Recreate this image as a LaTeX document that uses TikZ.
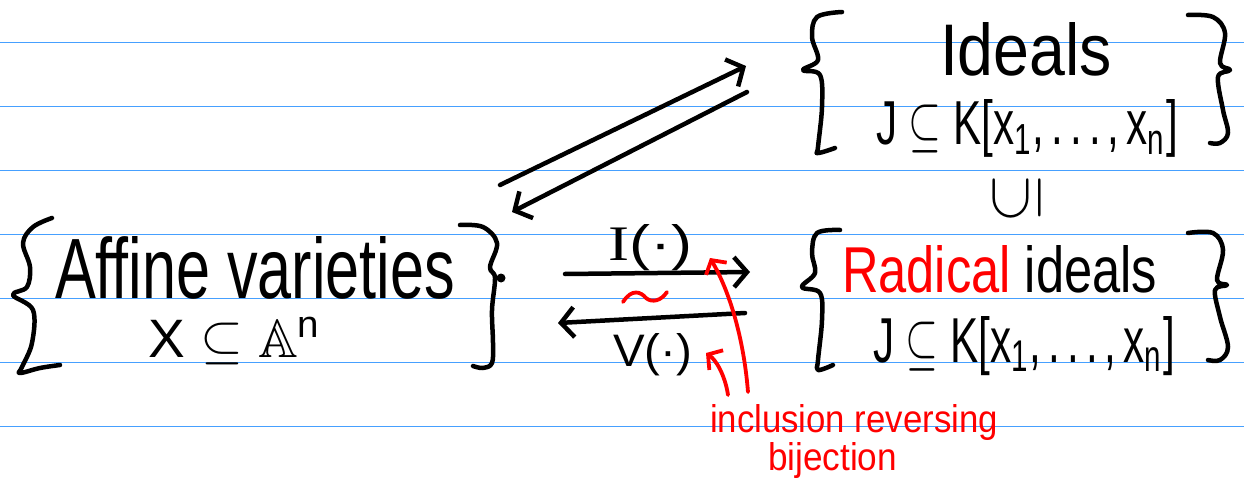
\documentclass[tikz,border=0pt]{standalone}
\usepackage{amssymb}
\usepackage{graphicx}
\usepackage{fontspec}
\setmainfont{Liberation Sans}
\newfontfamily\serifhand{Liberation Serif}
\usetikzlibrary{arrows.meta}
\definecolor{rule}{RGB}{70,160,255}
\definecolor{ink}{RGB}{0,0,0}
\definecolor{redink}{RGB}{255,0,0}
% scale a piece of text to a given width and height above the baseline (in pt)
\newcommand{\fitto}[3]{\resizebox{#1pt}{#2pt}{#3}}
\begin{document}
\begin{tikzpicture}[x=1pt,y=-1pt,
  pen/.style={draw=ink, line width=4.5pt, line cap=round, line join=round},
  redpen/.style={draw=redink, line width=3.8pt, line cap=round, line join=round},
  bracepath/.style={pen, smooth, tension=0.6},
  label/.style={anchor=base west, inner sep=0pt, outer sep=0pt},
  barb/.style={-{Straight Barb[length=13pt,width=30pt]}},
  smallbarb/.style={-{Straight Barb[length=10pt,width=24pt]}},
  ruleline/.style={draw=rule, line width=1.8pt}]

\useasboundingbox (0,0) rectangle (1244,484);
\fill[white] (0,0) rectangle (1244,484);

% ruled paper
\foreach \k in {0,...,6}
  \draw[ruleline] (0,{42.5+64*\k}) -- (1244,{42.5+64*\k});

% ---------- affine varieties ----------
\draw[bracepath] plot coordinates {(52,218) (33,227) (23,243) (30,267) (27,287) (13,295)
  (33,310) (32,343) (22,367) (20,373) (40,368) (60,365)};
\draw[bracepath] plot coordinates {(460,225) (483,227) (497,243) (490,267) (495,278)
  (492,310) (493,343) (492,363) (483,368) (473,366)};
\fill[ink] (501,278) circle (4.5pt);

\node[label] (aff) at (55,298) {\fitto{400}{62}{Affine varieties}};
\node[label] (affX) at (148,357) {\fitto{174}{40}{X $\subseteq\mathbb{A}$\textsuperscript{n}}};

% ---------- ideals ----------
\draw[bracepath] plot coordinates {(842,12) (817,17) (812,37) (818,60) (803,70)
  (820,75) (822,107) (818,147) (818,153) (835,148)};
\draw[bracepath] plot coordinates {(1188,15) (1213,17) (1225,33) (1220,63) (1230,70)
  (1218,77) (1223,110) (1228,133) (1220,143) (1210,143)};
\node[label] (ideals) at (940,76) {\fitto{172}{53}{Ideals}};
\node[label] (idealsJ) at (876,145) {\fitto{302}{45}{J $\subseteq$ K[x\textsubscript{1},\,.\,.\,.\,,\,x\textsubscript{n}]}};

% inclusion of radical ideals in all ideals
\node[label] (incl) at (993,223) {\fitto{48}{50}{\rotatebox{90}{$\subseteq$}}};

% ---------- radical ideals ----------
\draw[bracepath] plot coordinates {(840,230) (817,233) (812,253) (815,273) (802,287)
  (820,293) (822,320) (818,360) (818,370) (833,365)};
\draw[bracepath] plot coordinates {(1188,233) (1213,233) (1223,250) (1217,280) (1227,285)
  (1215,290) (1220,317) (1228,347) (1220,360) (1208,360)};
\node[label] (rad) at (842,292) {\fitto{315}{47}{\textcolor{redink}{Radical} ideals}};
\node[label] (radJ) at (873,362) {\fitto{302}{46}{J $\subseteq$ K[x\textsubscript{1},\,.\,.\,.\,,\,x\textsubscript{n}]}};

% ---------- maps between them ----------
\coordinate (affTop) at (500,185);
\coordinate (idLow) at (746,66);
\coordinate (idLow2) at (747,92);
\coordinate (affTop2) at (512,212);
\draw[pen, barb] (affTop) -- (idLow);
\draw[pen, barb] (idLow2) -- (affTop2);

\coordinate (affR) at (565,274);
\coordinate (radL) at (750,272);
\coordinate (radL2) at (745,313);
\coordinate (affR2) at (558,323);
\draw[pen, barb] (affR) -- (radL);
\draw[pen, barb] (radL2) -- (affR2);

\node[label] (Imap) at (608,260) {\fitto{84}{36}{{\serifhand I}(·)}};
\node[label] (Vmap) at (613,366) {\fitto{79}{33}{V(·)}};

% bijection mark
\draw[redpen] (623,302) .. controls (632,288) and (641,292) .. (646,298)
  .. controls (652,303) and (661,301) .. (667,292);

% ---------- annotation ----------
\node[label, text=redink] (note1) at (710,432) {\fitto{288}{28}{inclusion reversing}};
\node[label, text=redink] (note2) at (768,470) {\fitto{129}{28}{bijection}};
\coordinate (tipI) at (710,258);
\coordinate (tipV) at (706,353);
\draw[redpen, smallbarb] (748,392) .. controls (743,330) and (726,285) .. (tipI);
\draw[redpen, smallbarb] (728,395) .. controls (725,375) and (716,360) .. (tipV);
\end{tikzpicture}
\end{document}
